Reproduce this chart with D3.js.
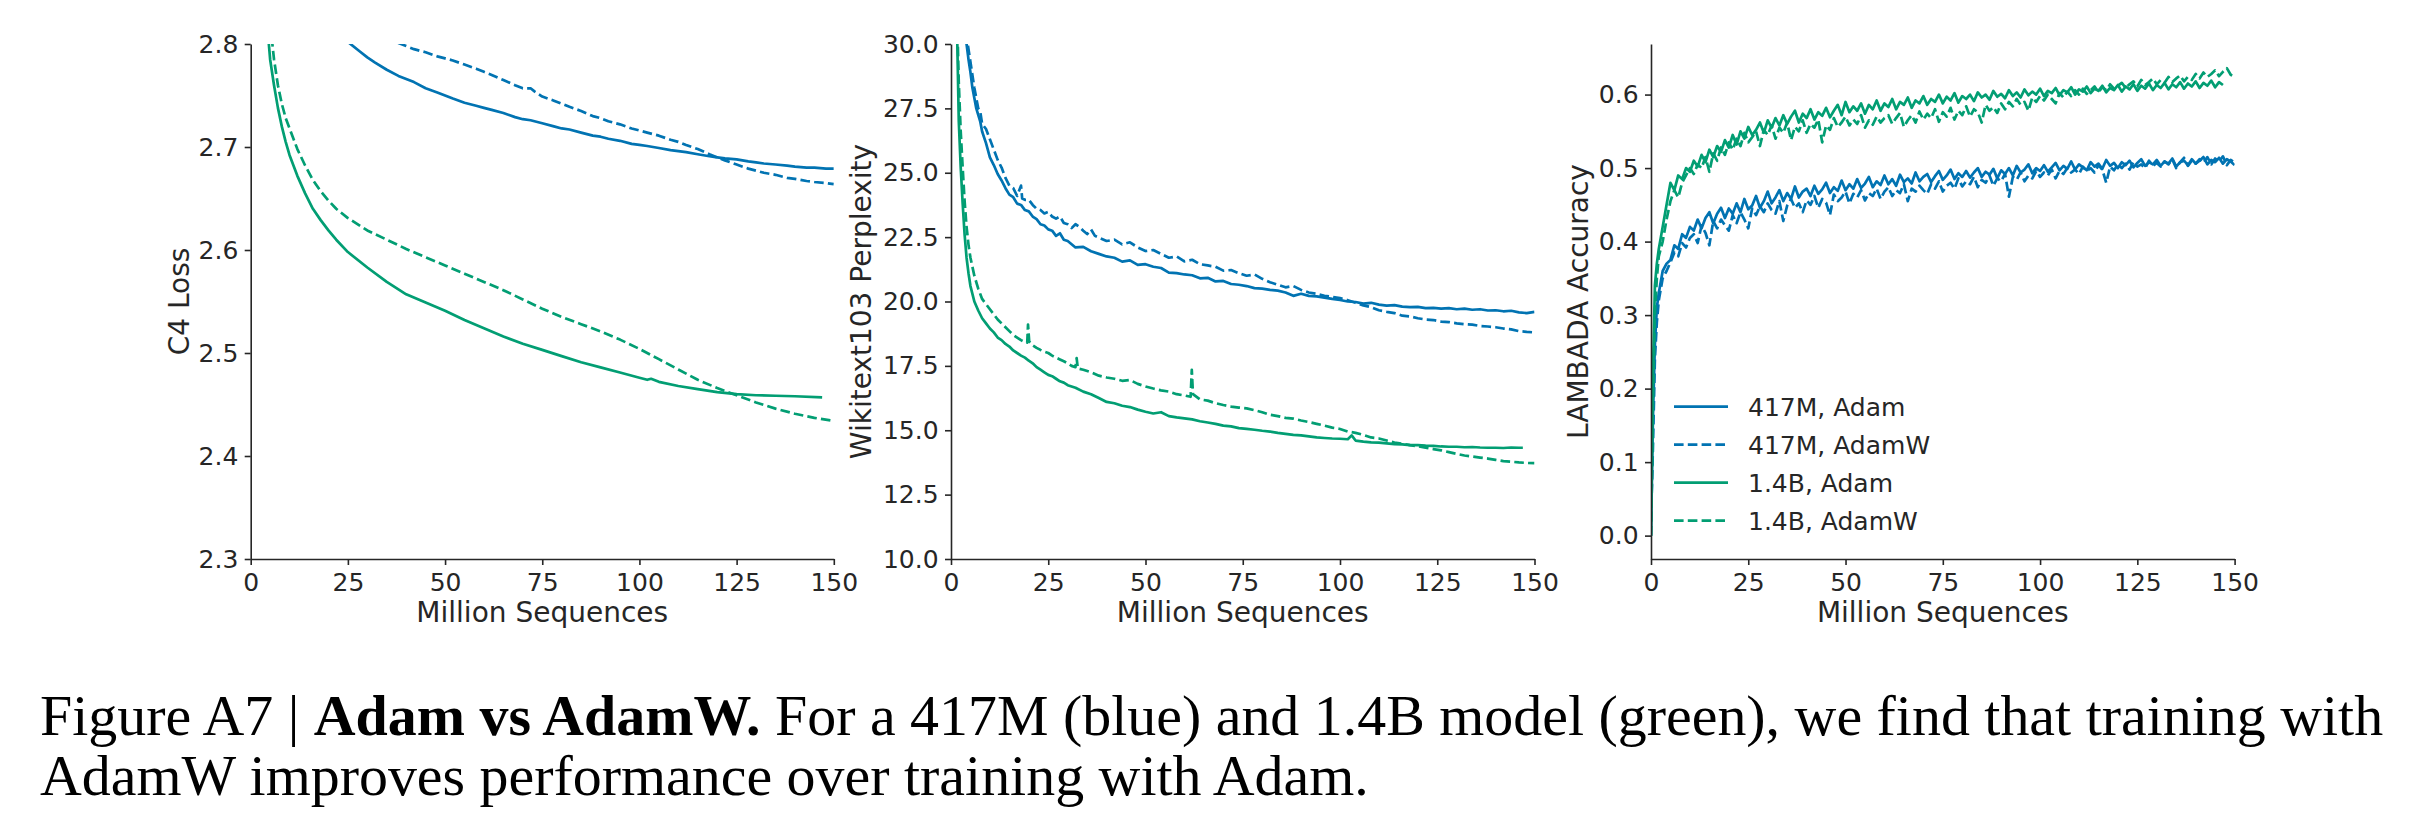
<!DOCTYPE html>
<html><head><meta charset="utf-8">
<script src="https://cdn.jsdelivr.net/npm/d3@7"></script>
<style>html,body{margin:0;padding:0;background:#fff;} svg{display:block}</style>
</head><body>
<svg id="chart" width="2424" height="834"></svg>
<script>
// ---------------- DATA ----------------
const SERIES_NAMES = ["417M, Adam", "417M, AdamW", "1.4B, Adam", "1.4B, AdamW"];
const X_TICKS = [0, 25, 50, 75, 100, 125, 150];
const C4_TICKS = [2.3, 2.4, 2.5, 2.6, 2.7, 2.8];
const WIKI_TICKS = [10, 12.5, 15, 17.5, 20, 22.5, 25, 27.5, 30];
const LAMBADA_TICKS = [0, 0.1, 0.2, 0.3, 0.4, 0.5, 0.6];

// Panel 1: C4 loss  [million sequences, loss]
const C4_417M_ADAM = [[20,2.815],[25,2.802],[28,2.793],[30,2.787],[32,2.782],[35,2.775],[38,2.769],[40,2.766],[42,2.763],[45,2.757],[48,2.753],[50,2.75],[52,2.747],[55,2.743],[58,2.74],[60,2.738],[62,2.736],[65,2.733],[68,2.729],[70,2.727],[72,2.726],[75,2.723],[78,2.72],[80,2.718],[82,2.717],[85,2.714],[88,2.711],[90,2.71],[92,2.708],[95,2.706],[98,2.703],[100,2.702],[102,2.701],[105,2.699],[108,2.697],[110,2.696],[112,2.695],[115,2.693],[118,2.691],[120,2.69],[122,2.689],[125,2.688],[128,2.686],[130,2.685],[132,2.684],[135,2.683],[138,2.682],[140,2.681],[143,2.68],[145,2.68],[148,2.679],[150,2.679]];
const C4_417M_ADAMW = [[35,2.81],[38,2.801],[40,2.798],[42,2.795],[45,2.792],[48,2.788],[50,2.786],[52,2.784],[55,2.78],[58,2.776],[60,2.773],[62,2.77],[65,2.765],[68,2.76],[70,2.757],[72,2.757],[73,2.754],[75,2.749],[78,2.745],[80,2.742],[82,2.739],[85,2.735],[88,2.73],[90,2.728],[92,2.725],[95,2.722],[98,2.718],[100,2.716],[102,2.714],[105,2.711],[108,2.707],[110,2.705],[112,2.702],[115,2.698],[118,2.693],[120,2.69],[122,2.687],[125,2.683],[128,2.679],[130,2.677],[132,2.675],[135,2.673],[138,2.67],[140,2.669],[143,2.667],[145,2.666],[148,2.665],[150,2.664]];
const C4_14B_ADAM = [[4,2.83],[5,2.785],[6,2.76],[7,2.738],[8,2.72],[9,2.705],[10,2.692],[12,2.672],[14,2.655],[16,2.64],[18,2.629],[20,2.619],[22,2.61],[25,2.598],[30,2.583],[35,2.569],[40,2.557],[45,2.549],[50,2.541],[55,2.532],[60,2.524],[65,2.516],[70,2.509],[75,2.503],[80,2.497],[85,2.491],[90,2.486],[95,2.481],[100,2.476],[102,2.474],[103,2.475],[105,2.472],[110,2.468],[115,2.465],[120,2.462],[125,2.46],[130,2.459],[135,2.4585],[140,2.458],[147,2.457]];
const C4_14B_ADAMW = [[5,2.82],[6,2.785],[7,2.76],[8,2.742],[9,2.728],[10,2.718],[12,2.698],[14,2.682],[16,2.668],[18,2.657],[20,2.648],[22,2.64],[25,2.631],[30,2.619],[35,2.61],[40,2.601],[45,2.593],[50,2.585],[55,2.577],[60,2.569],[65,2.561],[70,2.552],[75,2.543],[80,2.535],[85,2.528],[90,2.521],[95,2.513],[100,2.504],[105,2.494],[110,2.484],[115,2.474],[120,2.466],[125,2.459],[130,2.452],[135,2.446],[140,2.441],[145,2.437],[150,2.434]];

// Panel 2: Wikitext103 perplexity
const WIKI_417M_ADAM = [[3.5,30.8],[4,30.0],[4.5,29.4],[5,28.9],[5.5,28.3],[6,27.9],[6.5,27.5],[7,27.25],[7.5,27.0],[8,26.6],[9,26.15],[10,25.6],[11,25.3],[12,24.95],[13,24.7],[14,24.4],[15,24.15],[16,24.05],[17,23.8],[18,23.75],[19,23.55],[20,23.5],[21,23.3],[22,23.2],[23,23.0],[24,22.95],[25,22.8],[26,22.75],[27,22.55],[28,22.65],[29,22.4],[30,22.35],[32,22.1],[34,22.12],[36,21.95],[38,21.85],[40,21.75],[42,21.7],[44,21.55],[46,21.6],[48,21.42],[50,21.45],[52,21.35],[54,21.3],[56,21.12],[58,21.1],[60,21.05],[62,21.02],[64,20.9],[66,20.92],[68,20.78],[70,20.8],[72,20.68],[74,20.65],[76,20.6],[78,20.52],[80,20.5],[82,20.45],[84,20.42],[86,20.35],[88,20.22],[90,20.3],[92,20.22],[94,20.2],[96,20.15],[98,20.1],[100,20.06],[102,20.0],[104,19.98],[106,19.92],[108,19.95],[110,19.88],[112,19.84],[114,19.86],[116,19.8],[118,19.78],[120,19.79],[122,19.74],[124,19.75],[126,19.72],[128,19.74],[130,19.7],[132,19.72],[134,19.68],[136,19.7],[138,19.65],[140,19.66],[142,19.62],[144,19.64],[146,19.58],[148,19.55],[150,19.6]];
const WIKI_417M_ADAMW = [[3.5,31],[4,30.3],[5,29.3],[6,28.3],[7,27.5],[7.5,27.4],[8,26.9],[9,26.7],[10,26.3],[11,25.9],[12,25.5],[13,25.2],[14,24.8],[15,24.5],[16,24.4],[17,24.1],[18,24.5],[18.3,24.0],[19,23.95],[20,23.95],[21,23.75],[22,23.6],[23,23.55],[24,23.42],[25,23.48],[26,23.3],[27,23.22],[28,23.3],[29,23.05],[30,23.0],[31,22.85],[32,23.0],[33,22.9],[34,22.75],[35,22.62],[36,22.8],[37,22.55],[38,22.48],[40,22.35],[42,22.4],[44,22.22],[46,22.3],[48,22.1],[50,21.96],[52,22.0],[54,21.85],[56,21.7],[58,21.75],[60,21.56],[62,21.62],[64,21.45],[66,21.4],[68,21.35],[70,21.2],[72,21.22],[74,21.1],[76,21.0],[78,21.05],[80,20.88],[82,20.75],[84,20.65],[86,20.55],[88,20.6],[90,20.45],[92,20.35],[94,20.3],[96,20.22],[98,20.18],[100,20.13],[102,20.05],[104,19.95],[106,19.85],[108,19.78],[110,19.66],[112,19.6],[114,19.55],[116,19.45],[118,19.42],[120,19.35],[122,19.3],[124,19.28],[126,19.22],[128,19.2],[130,19.15],[132,19.12],[134,19.1],[136,19.05],[138,19.03],[140,19.0],[142,18.95],[144,18.92],[146,18.85],[148,18.82],[150,18.8]];
const WIKI_14B_ADAM = [[1.5,31],[2,27.0],[2.5,25.2],[3,23.8],[3.5,22.6],[4,21.7],[4.5,21.1],[5,20.6],[6,20.0],[7,19.65],[8,19.35],[9,19.15],[10,18.95],[11,18.8],[12,18.6],[13,18.5],[14,18.35],[15,18.25],[16,18.1],[17,18.0],[18,17.9],[19,17.82],[20,17.7],[21,17.6],[22,17.45],[23,17.35],[24,17.25],[25,17.15],[26,17.1],[27,17.0],[28,16.9],[29,16.85],[30,16.75],[32,16.65],[34,16.5],[36,16.4],[38,16.25],[40,16.1],[42,16.05],[44,15.95],[46,15.9],[48,15.8],[50,15.72],[52,15.65],[54,15.7],[56,15.55],[58,15.5],[60,15.46],[62,15.42],[64,15.35],[66,15.3],[68,15.25],[70,15.18],[72,15.15],[74,15.08],[76,15.05],[78,15.02],[80,14.98],[82,14.95],[84,14.9],[86,14.86],[88,14.82],[90,14.8],[92,14.76],[94,14.72],[96,14.7],[98,14.68],[100,14.67],[102,14.65],[103,14.8],[104,14.6],[106,14.56],[108,14.53],[110,14.52],[112,14.49],[114,14.46],[116,14.45],[118,14.42],[120,14.42],[122,14.4],[124,14.39],[126,14.37],[128,14.36],[130,14.36],[132,14.34],[134,14.35],[136,14.33],[138,14.32],[140,14.32],[142,14.31],[144,14.33],[146,14.32],[147,14.32]];
const WIKI_14B_ADAMW = [[1.5,31.5],[2,28.5],[2.5,26.6],[3,25.2],[3.5,23.9],[4,22.9],[4.5,22.2],[5,21.7],[6,21.0],[7,20.5],[8,20.1],[9,19.9],[10,19.7],[11,19.5],[12,19.3],[13,19.15],[14,19.0],[15,18.85],[16,18.7],[17,18.6],[18,18.5],[19,18.42],[19.6,18.4],[19.8,19.1],[20.1,18.45],[21,18.3],[22,18.2],[23,18.12],[24,18.05],[25,18.0],[26,17.9],[27,17.82],[28,17.75],[29,17.68],[30,17.6],[31,17.5],[32,17.45],[32.3,17.8],[32.6,17.4],[34,17.35],[36,17.25],[38,17.12],[40,17.05],[42,17.0],[44,16.92],[46,16.95],[48,16.8],[50,16.7],[52,16.62],[54,16.55],[56,16.5],[58,16.4],[60,16.35],[61.6,16.3],[61.9,17.35],[62.2,16.4],[64,16.2],[66,16.15],[68,16.05],[70,15.98],[72,15.92],[74,15.88],[76,15.85],[78,15.78],[80,15.7],[82,15.6],[84,15.55],[86,15.48],[88,15.45],[90,15.38],[92,15.32],[94,15.25],[96,15.18],[98,15.1],[100,15.05],[102,14.95],[104,14.9],[106,14.82],[108,14.72],[110,14.68],[112,14.6],[114,14.52],[116,14.48],[118,14.42],[120,14.38],[122,14.32],[124,14.27],[126,14.22],[128,14.15],[130,14.08],[132,14.02],[134,13.98],[136,13.94],[138,13.9],[140,13.85],[142,13.8],[144,13.78],[146,13.75],[148,13.73],[150,13.72]];

// Panel 3: LAMBADA accuracy (x grid shared by the four runs)
const LAMBADA_X = [0,0.5,1,1.5,2,3,4,5,6,7,8,9,10,11,12,13,14,15,16,17,18,19,20,21,22,23,24,25,26,27,28,29,30,31,32,33,34,35,36,37,38,39,40,41,42,43,44,45,46,47,48,49,50,51,52,53,54,55,56,57,58,59,60,61,62,63,64,65,66,67,68,69,70,71,72,73,74,75,76,77,78,79,80,81,82,83,84,85,86,87,88,89,90,91,92,93,94,95,96,97,98,99,100,101,102,103,104,105,106,107,108,109,110,111,112,113,114,115,116,117,118,119,120,121,122,123,124,125,126,127,128,129,130,131,132,133,134,135,136,137,138,139,140,141,142,143,144,145,146,147,148,149,150];
const LAMBADA_417M_ADAM = [0.00,0.16,0.26,0.31,0.33,
 0.36,0.37,0.375,0.395,0.39,0.41,0.405,0.42,
 0.415,0.43,0.418,0.432,0.44,0.425,0.438,0.446,0.432,0.445,
 0.438,0.452,0.44,0.458,0.444,0.449,0.462,0.446,0.455,0.468,
 0.452,0.46,0.47,0.455,0.466,0.458,0.475,0.46,0.468,0.472,
 0.462,0.476,0.465,0.471,0.48,0.466,0.474,0.469,0.483,0.47,
 0.478,0.472,0.485,0.473,0.479,0.488,0.474,0.482,0.477,0.49,
 0.478,0.485,0.476,0.491,0.481,0.486,0.479,0.494,0.482,0.488,
 0.492,0.481,0.489,0.496,0.484,0.49,0.498,0.485,0.493,0.488,
 0.496,0.487,0.494,0.5,0.488,0.495,0.491,0.499,0.486,0.497,
 0.492,0.5,0.49,0.503,0.494,0.498,0.505,0.493,0.5,0.496,
 0.504,0.495,0.501,0.507,0.497,0.503,0.499,0.509,0.498,0.505,
 0.501,0.497,0.508,0.502,0.506,0.499,0.511,0.503,0.507,0.5,
 0.508,0.504,0.51,0.501,0.507,0.512,0.503,0.508,0.505,0.511,
 0.503,0.509,0.506,0.513,0.502,0.508,0.51,0.504,0.512,0.506,
 0.51,0.515,0.505,0.511,0.508,0.514,0.506,0.512,0.509,0.504];
const LAMBADA_417M_ADAMW = [0.02,0.12,0.24,0.29,0.32,
 0.35,0.36,0.372,0.385,0.38,0.398,0.392,0.405,
 0.41,0.398,0.422,0.412,0.395,0.428,0.418,0.43,0.422,0.415,
 0.436,0.425,0.44,0.43,0.418,0.445,0.436,0.448,0.44,0.452,
 0.443,0.438,0.455,0.428,0.449,0.458,0.446,0.452,0.44,0.456,
 0.45,0.462,0.446,0.458,0.453,0.436,0.464,0.455,0.46,0.468,
 0.452,0.465,0.46,0.47,0.456,0.466,0.462,0.472,0.458,0.468,
 0.474,0.462,0.47,0.466,0.478,0.455,0.472,0.468,0.476,0.47,
 0.465,0.478,0.472,0.482,0.468,0.476,0.48,0.472,0.486,0.475,
 0.482,0.478,0.488,0.474,0.484,0.48,0.49,0.476,0.486,0.482,
 0.492,0.461,0.488,0.484,0.494,0.482,0.49,0.486,0.496,0.488,
 0.494,0.49,0.498,0.486,0.496,0.492,0.5,0.494,0.498,0.492,
 0.502,0.496,0.5,0.494,0.504,0.498,0.48,0.502,0.497,0.505,
 0.5,0.506,0.498,0.508,0.502,0.505,0.5,0.51,0.503,0.507,
 0.502,0.509,0.505,0.512,0.5,0.508,0.514,0.503,0.51,0.506,
 0.512,0.507,0.515,0.505,0.513,0.509,0.516,0.504,0.511,0.508];
const LAMBADA_14B_ADAM = [0.0,0.22,0.34,0.37,0.39,
 0.42,0.45,0.48,0.47,0.49,0.485,0.5,0.495,
 0.51,0.502,0.518,0.508,0.525,0.515,0.53,0.522,0.538,0.528,
 0.545,0.532,0.55,0.54,0.556,0.545,0.552,0.562,0.548,0.565,
 0.555,0.568,0.558,0.572,0.56,0.57,0.578,0.562,0.574,0.568,
 0.58,0.566,0.576,0.571,0.582,0.569,0.578,0.586,0.572,0.59,
 0.576,0.584,0.578,0.588,0.574,0.586,0.58,0.592,0.578,0.588,
 0.583,0.594,0.58,0.59,0.586,0.596,0.582,0.592,0.588,0.598,
 0.586,0.594,0.59,0.6,0.588,0.597,0.592,0.602,0.589,0.598,
 0.594,0.6,0.591,0.603,0.596,0.6,0.593,0.605,0.597,0.601,
 0.595,0.606,0.598,0.603,0.596,0.607,0.599,0.604,0.6,0.608,
 0.598,0.605,0.602,0.609,0.599,0.606,0.603,0.61,0.6,0.607,
 0.604,0.611,0.602,0.608,0.605,0.612,0.603,0.609,0.606,0.613,
 0.604,0.611,0.607,0.614,0.605,0.612,0.608,0.615,0.606,0.613,
 0.609,0.616,0.607,0.614,0.61,0.617,0.608,0.615,0.611,0.618,
 0.609,0.616,0.612,0.619,0.61,0.617,0.613];
const LAMBADA_14B_ADAMW = [0.0,0.18,0.3,0.35,0.38,
 0.4,0.43,0.455,0.47,0.46,0.48,0.49,0.5,
 0.492,0.505,0.5,0.515,0.495,0.52,0.51,0.528,0.518,0.535,
 0.525,0.54,0.53,0.548,0.535,0.542,0.55,0.53,0.552,0.545,
 0.558,0.54,0.555,0.548,0.562,0.538,0.556,0.55,0.565,0.548,
 0.56,0.555,0.566,0.535,0.558,0.552,0.568,0.556,0.562,0.57,
 0.558,0.566,0.56,0.572,0.555,0.565,0.559,0.57,0.562,0.568,
 0.572,0.56,0.568,0.575,0.556,0.565,0.572,0.562,0.577,0.566,
 0.574,0.568,0.58,0.563,0.576,0.57,0.582,0.566,0.578,0.572,
 0.584,0.57,0.58,0.576,0.562,0.586,0.578,0.583,0.575,0.588,
 0.58,0.59,0.584,0.594,0.586,0.59,0.578,0.596,0.59,0.598,
 0.592,0.6,0.594,0.588,0.602,0.596,0.604,0.598,0.606,0.6,
 0.608,0.601,0.606,0.611,0.603,0.61,0.606,0.614,0.608,0.612,
 0.616,0.609,0.614,0.618,0.611,0.62,0.613,0.617,0.622,0.614,
 0.62,0.616,0.624,0.617,0.622,0.626,0.618,0.624,0.62,0.628,
 0.622,0.63,0.624,0.628,0.633,0.625,0.631,0.636,0.627,0.624];

const CAPTION_PARTS = [["Figure A7 | ", "normal"], ["Adam vs AdamW.", "bold"], [" For a 417M (blue) and 1.4B model (green), we find that training with", "normal"]];
const CAPTION_LINE2 = "AdamW improves performance over training with Adam.";

// ---------------- DRAWING ----------------
const BLUE = "#0173b2", GREEN = "#029e73", INK = "#262626";
const COLORS = [BLUE, BLUE, GREEN, GREEN];
const DASHED = [false, true, false, true];
const FONT = "'DejaVu Sans', sans-serif";

const svg = d3.select("#chart");
svg.append("rect").attr("width", 2424).attr("height", 834).attr("fill", "#fff");

const TOP = 44, BOTTOM = 559;
const zipX = (xs, ys) => ys.map((v, i) => [xs[i], v]);

const panels = [
  { left: 250.7, right: 833.8, yDomain: [2.3, 2.8], yTicks: C4_TICKS, label: "C4 Loss", labelX: 189,
    series: [C4_417M_ADAM, C4_417M_ADAMW, C4_14B_ADAM, C4_14B_ADAMW] },
  { left: 951, right: 1534.5, yDomain: [10, 30], yTicks: WIKI_TICKS, label: "Wikitext103 Perplexity", labelX: 871,
    series: [WIKI_417M_ADAM, WIKI_417M_ADAMW, WIKI_14B_ADAM, WIKI_14B_ADAMW] },
  { left: 1651, right: 2234.6, yDomain: [-0.0318, 0.6688], yTicks: LAMBADA_TICKS, label: "LAMBADA Accuracy", labelX: 1588,
    series: [zipX(LAMBADA_X, LAMBADA_417M_ADAM), zipX(LAMBADA_X, LAMBADA_417M_ADAMW),
             zipX(LAMBADA_X, LAMBADA_14B_ADAM), zipX(LAMBADA_X, LAMBADA_14B_ADAMW)], legend: true }
];

panels.forEach((p, pi) => {
  const x = d3.scaleLinear().domain([0, 150]).range([p.left, p.right]);
  const y = d3.scaleLinear().domain(p.yDomain).range([BOTTOM, TOP]);
  const g = svg.append("g");
  const clipId = "clip" + pi;
  svg.append("defs").append("clipPath").attr("id", clipId)
    .append("rect").attr("x", p.left).attr("y", TOP).attr("width", p.right - p.left).attr("height", BOTTOM - TOP);

  const line = d3.line().x(d => x(d[0])).y(d => y(d[1]));
  const lg = g.append("g").attr("clip-path", `url(#${clipId})`);
  p.series.forEach((s, si) => {
    lg.append("path").datum(s).attr("d", line)
      .attr("fill", "none").attr("stroke", COLORS[si]).attr("stroke-width", 2.7)
      .attr("stroke-linejoin", "round")
      .attr("stroke-dasharray", DASHED[si] ? "9.6,4.2" : null);
  });

  const ax = g.append("g").attr("transform", `translate(0,${BOTTOM})`)
    .call(d3.axisBottom(x).tickValues(X_TICKS).tickFormat(d3.format("d")).tickSize(6).tickSizeOuter(0).tickPadding(8));
  const ay = g.append("g").attr("transform", `translate(${p.left},0)`)
    .call(d3.axisLeft(y).tickValues(p.yTicks).tickFormat(d3.format(".1f")).tickSize(6).tickSizeOuter(0).tickPadding(6.4));
  [ax, ay].forEach(a => {
    a.select(".domain").attr("stroke", INK).attr("stroke-width", 1.6);
    a.selectAll(".tick line").attr("stroke", INK).attr("stroke-width", 1.6);
    a.selectAll(".tick text").attr("fill", INK).style("font-family", FONT).style("font-size", "25px");
  });

  g.append("text").attr("x", (p.left + p.right) / 2).attr("y", 622).attr("text-anchor", "middle")
    .style("font-family", FONT).style("font-size", "28px").attr("fill", INK).text("Million Sequences");
  g.append("text").attr("transform", `translate(${p.labelX},${(TOP + BOTTOM) / 2}) rotate(-90)`)
    .attr("text-anchor", "middle").style("font-family", FONT).style("font-size", "28px").attr("fill", INK).text(p.label);

  if (p.legend) {
    const leg = g.append("g");
    SERIES_NAMES.forEach((name, i) => {
      const cy = 406.7 + i * 38;
      leg.append("line").attr("x1", p.left + 23).attr("x2", p.left + 77).attr("y1", cy).attr("y2", cy)
        .attr("stroke", COLORS[i]).attr("stroke-width", 2.7).attr("stroke-dasharray", DASHED[i] ? "9.6,4.2" : null);
      leg.append("text").attr("x", p.left + 97).attr("y", cy + 9.2)
        .style("font-family", FONT).style("font-size", "25px").attr("fill", INK).text(name);
    });
  }
});

// Caption
const SERIF = "'Liberation Serif', 'DejaVu Serif', serif";
const cap1 = svg.append("text").attr("x", 40).attr("y", 735).style("font-family", SERIF).style("font-size", "50px").attr("fill", "#000");
CAPTION_PARTS.forEach(([t, w]) => cap1.append("tspan").style("font-weight", w).text(t));
const cap2 = svg.append("text").attr("x", 40).attr("y", 795).style("font-family", SERIF).style("font-size", "50px").attr("fill", "#000").text(CAPTION_LINE2);
const w1 = cap1.node().getComputedTextLength();
const fs = 50 * 2344 / w1;
cap1.style("font-size", fs + "px");
cap2.style("font-size", fs + "px");
</script>
</body></html>
